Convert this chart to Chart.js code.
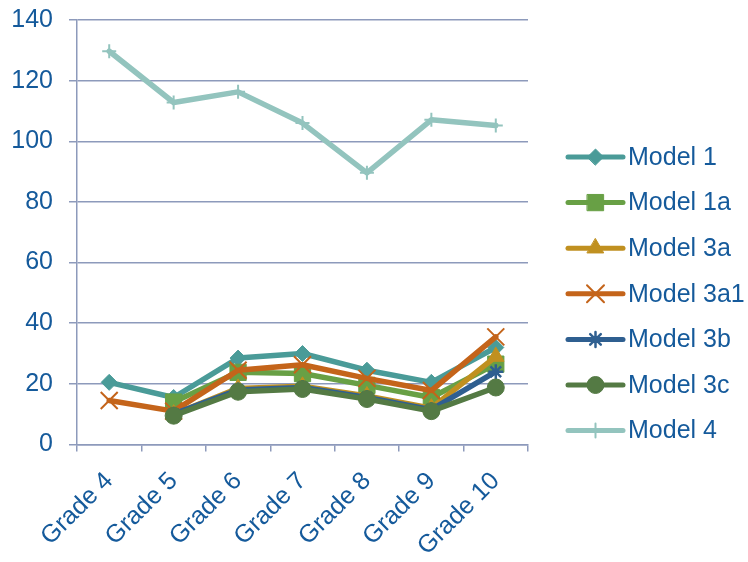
<!DOCTYPE html>
<html>
<head>
<meta charset="utf-8">
<script src="https://cdn.jsdelivr.net/npm/chart.js@4/dist/chart.umd.min.js"></script>
<style>
  html, body { margin: 0; padding: 0; background: #ffffff; }
  canvas { display: block; }
</style>
</head>
<body>
<canvas id="chart" width="748" height="562"></canvas>
<script>
// Categories and series values
const grades = ['Grade 4', 'Grade 5', 'Grade 6', 'Grade 7', 'Grade 8', 'Grade 9', 'Grade 10'];
const model1   = [20.5, 15.5, 28.5, 30.0, 24.5, 20.5, 32.0];
const model1a  = [null, 14.0, 23.8, 23.4, 19.5, 15.5, 26.5];
const model3a  = [null, 10.0, 18.5, 19.2, 16.0, 12.0, 29.0];
const model3a1 = [14.5, 11.0, 24.5, 26.3, 21.8, 17.8, 35.5];
const model3b  = [null, 10.0, 18.0, 18.8, 15.5, 11.5, 24.0];
const model3c  = [null,  9.5, 17.4, 18.3, 15.0, 11.0, 18.8];
const model4   = [129.7, 112.8, 116.3, 106.0, 89.6, 107.1, 105.2];

// Value-axis tick labels
const yTickValues = [0, 20, 40, 60, 80, 100, 120, 140];

const textColor = '#155A9B';
const gridColor = '#8D9ABB';
const fontFamily = '"Liberation Sans", Arial, sans-serif';
const fontSize = 25;

function series(label, data, color, pointStyle, radius, borderW, order) {
  return {
    label, data,
    borderColor: color,
    backgroundColor: color,
    borderWidth: 5.5,
    borderJoinStyle: 'round',
    borderCapStyle: 'round',
    tension: 0,
    pointStyle,
    pointRadius: radius,
    pointHoverRadius: radius,
    pointBackgroundColor: color,
    pointBorderColor: color,
    pointBorderWidth: borderW,
    order
  };
}

const datasets = [
  series('Model 1',   model1,   '#4A9B98', 'rectRot',  8,   1,   7),
  series('Model 1a',  model1a,  '#68A045', 'rect',     11.5, 1,  6),
  series('Model 3a',  model3a,  '#C09020', 'triangle', 9.5, 1,   5),
  series('Model 3a1', model3a1, '#C4641A', 'crossRot', 12,  2,   4),
  series('Model 3b',  model3b,  '#2F5F90', 'star',     7.5, 2.5, 3),
  series('Model 3c',  model3c,  '#547A44', 'circle',   8.5, 1,   2),
  series('Model 4',   model4,   '#93C4BE', 'cross',    7,   2,   1)
];

// Legend drawn as line + marker samples beside the plot
const lineLegend = {
  id: 'lineLegend',
  afterDraw(chart) {
    const ctx = chart.ctx;
    const left = chart.chartArea.right + 40;
    const top = 157;
    const step = 45.6;
    const len = 55;
    ctx.save();
    chart.data.datasets.forEach((ds, i) => {
      const y = top + i * step;
      ctx.strokeStyle = ds.borderColor;
      ctx.lineWidth = 5;
      ctx.lineCap = 'round';
      ctx.beginPath();
      ctx.moveTo(left, y);
      ctx.lineTo(left + len, y);
      ctx.stroke();
      ctx.fillStyle = ds.pointBackgroundColor;
      ctx.strokeStyle = ds.pointBorderColor;
      ctx.lineWidth = ds.pointBorderWidth;
      Chart.helpers.drawPoint(ctx, {
        pointStyle: ds.pointStyle,
        radius: ds.pointRadius,
        borderWidth: ds.pointBorderWidth,
        rotation: 0
      }, left + len / 2, y);
      ctx.fillStyle = textColor;
      ctx.font = fontSize + 'px ' + fontFamily;
      ctx.textAlign = 'left';
      ctx.textBaseline = 'middle';
      ctx.fillText(ds.label, left + len + 5, y + 1);
    });
    ctx.restore();
  }
};

new Chart(document.getElementById('chart'), {
  type: 'line',
  data: { labels: grades, datasets },
  plugins: [lineLegend],
  options: {
    responsive: false,
    animation: false,
    events: [],
    layout: { padding: { top: 20, right: 220, left: 0, bottom: 0 } },
    plugins: {
      legend: { display: false },
      tooltip: { enabled: false }
    },
    scales: {
      x: {
        type: 'category',
        offset: true,
        grid: {
          offset: true,
          drawOnChartArea: false,
          drawTicks: true,
          tickLength: 7,
          color: gridColor,
          lineWidth: 1.5
        },
        border: { display: true, color: gridColor, width: 1.5 },
        ticks: {
          color: textColor,
          font: { family: fontFamily, size: fontSize },
          minRotation: 45,
          maxRotation: 45,
          autoSkip: false,
          padding: 15
        },
        afterFit(scale) {
          scale.height = 117.5;
          scale.paddingLeft = 0;
          scale.paddingRight = 0;
        }
      },
      y: {
        min: 0,
        max: 140,
        afterBuildTicks(scale) {
          scale.ticks = yTickValues.map(v => ({ value: v }));
        },
        grid: {
          color: gridColor,
          lineWidth: 1.5,
          drawTicks: true,
          tickLength: 8
        },
        border: { display: true, color: gridColor, width: 1.5 },
        ticks: {
          color: textColor,
          font: { family: fontFamily, size: fontSize },
          padding: 16
        },
        afterFit(scale) {
          scale.width = 77;
          scale.paddingTop = 0;
          scale.paddingBottom = 0;
        }
      }
    }
  }
});
</script>
</body>
</html>
